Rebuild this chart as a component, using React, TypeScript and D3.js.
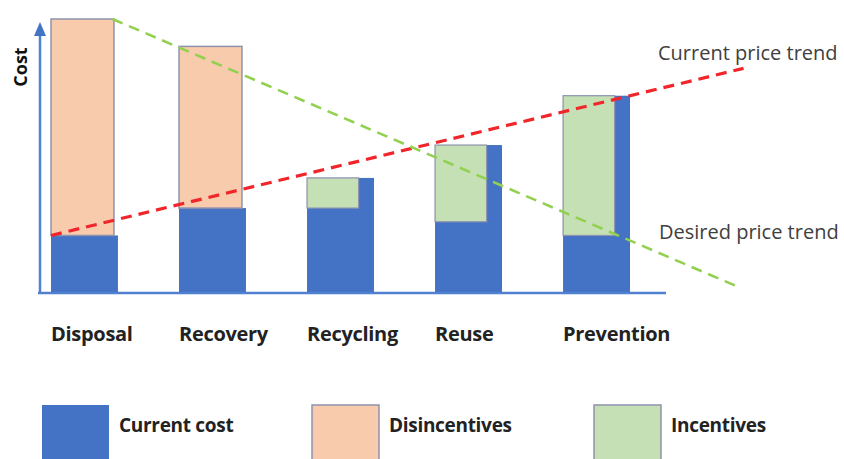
import { useRef, useEffect } from 'react';
import { select, scaleBand, scaleLinear, line } from 'd3';

const categories = ['Disposal', 'Recovery', 'Recycling', 'Reuse', 'Prevention'];
// cost units, baseline = 0
const currentCost = [21, 31, 42, 54, 72];
const disincentives = [79, 59, 0, 0, 0];
const incentives = [0, 0, 11, 28, 51];

// trend lines: [category position, cost]
const currentTrend: [number, number][] = [[0, 21], [5.41, 82]];
const desiredTrend: [number, number][] = [[0.48, 100], [5.38, 2]];

const legendItems = [
  { label: 'Current cost', key: 'current' },
  { label: 'Disincentives', key: 'dis' },
  { label: 'Incentives', key: 'inc' },
];

const BLUE = '#4472C4';
const PEACH = '#F8CBAD';
const GREEN = '#C5E0B4';
const EDGE = '#8E93AE';
const FONT = "'Open Sans', 'DejaVu Sans', sans-serif";

export default function App() {
  const svgRef = useRef<SVGSVGElement>(null);

  useEffect(() => {
    if (!svgRef.current) return;
    const svg = select(svgRef.current);
    svg.selectAll('*').remove();

    const width = 844;
    const height = 459;
    svg.attr('width', width).attr('height', height);

    const base = 293;
    const x = scaleBand<string>().domain(categories).range([51, 630]).paddingInner(0.477).paddingOuter(0);
    const step = x.step();
    const bw = x.bandwidth();
    const y = scaleLinear().domain([0, 100]).range([base, 19]);
    const xPos = scaleLinear().domain([0, 1]).range([51, 51 + step]);

    const g = svg.append('g');

    // current cost bars
    g.selectAll('.cur').data(categories).join('rect')
      .attr('x', d => x(d)!)
      .attr('y', (_, i) => y(currentCost[i]))
      .attr('width', bw)
      .attr('height', (_, i) => base - y(currentCost[i]))
      .attr('fill', BLUE);

    // disincentives on top
    g.selectAll('.dis').data(categories.filter((_, i) => disincentives[i] > 0)).join('rect')
      .attr('x', d => x(d)!)
      .attr('y', d => { const i = categories.indexOf(d); return y(currentCost[i] + disincentives[i]); })
      .attr('width', bw - 4)
      .attr('height', d => { const i = categories.indexOf(d); return y(currentCost[i]) - y(currentCost[i] + disincentives[i]); })
      .attr('fill', PEACH).attr('stroke', EDGE).attr('stroke-width', 1.5);

    // incentives inside
    g.selectAll('.inc').data(categories.filter((_, i) => incentives[i] > 0)).join('rect')
      .attr('x', d => x(d)!)
      .attr('y', d => y(currentCost[categories.indexOf(d)]))
      .attr('width', bw * 0.77)
      .attr('height', d => { const i = categories.indexOf(d); return y(currentCost[i] - incentives[i]) - y(currentCost[i]); })
      .attr('fill', GREEN).attr('stroke', EDGE).attr('stroke-width', 1.2);

    // axes
    g.append('line').attr('x1', 38).attr('x2', 666).attr('y1', base).attr('y2', base)
      .attr('stroke', '#5080D0').attr('stroke-width', 2.5);
    g.append('line').attr('x1', 40).attr('x2', 40).attr('y1', base + 1).attr('y2', 34)
      .attr('stroke', '#5080D0').attr('stroke-width', 2.5);
    g.append('path').attr('d', 'M40,22 L46,36 L34,36 Z').attr('fill', BLUE);

    // trend lines
    const trendLine = line<[number, number]>().x(d => xPos(d[0])).y(d => y(d[1]));
    g.append('path').datum(currentTrend).attr('d', trendLine)
      .attr('fill', 'none').attr('stroke', '#F0262A').attr('stroke-width', 3.2)
      .attr('stroke-dasharray', '11,7');
    g.append('path').datum(desiredTrend).attr('d', trendLine)
      .attr('fill', 'none').attr('stroke', '#92D050').attr('stroke-width', 2.6)
      .attr('stroke-dasharray', '11,7');

    // trend labels
    g.append('text').attr('x', 658).attr('y', 60).text('Current price trend')
      .attr('fill', '#404040').style('font-family', FONT).style('font-size', '20px');
    g.append('text').attr('x', 659).attr('y', 239).text('Desired price trend')
      .attr('fill', '#404040').style('font-family', FONT).style('font-size', '20px');

    // y label
    g.append('text').attr('transform', 'translate(27,67) rotate(-90)')
      .attr('text-anchor', 'middle').text('Cost')
      .attr('fill', '#111').style('font-family', FONT).style('font-size', '18px').style('font-weight', 700);

    // category labels
    g.selectAll('.cat').data(categories).join('text')
      .attr('x', d => x(d)!)
      .attr('y', 341)
      .text(d => d)
      .attr('fill', '#222').style('font-family', FONT).style('font-size', '20px')
      .style('font-weight', 700).style('letter-spacing', '-0.3px');

    // legend
    const legendX = scaleLinear().domain([0, 1]).range([42, 312]);
    const legendFill: Record<string, string> = { current: BLUE, dis: PEACH, inc: GREEN };
    const lg = g.selectAll('.lg').data(legendItems).join('g')
      .attr('transform', (_, i) => `translate(${i < 2 ? legendX(i) : 594},405)`);
    lg.append('rect').attr('width', 67).attr('height', 70)
      .attr('fill', d => legendFill[d.key])
      .attr('stroke', d => d.key === 'current' ? 'none' : EDGE).attr('stroke-width', 1.5);
    lg.append('text').attr('x', 77).attr('y', 27).text(d => d.label)
      .attr('fill', '#222').style('font-family', FONT).style('font-size', '19px')
      .style('font-weight', 700).style('letter-spacing', '-0.3px');
  }, []);

  return (
    <div style={{ position: 'absolute', left: 0, top: 0, background: '#fff' }}>
      <svg ref={svgRef} style={{ display: 'block' }} />
    </div>
  );
}
